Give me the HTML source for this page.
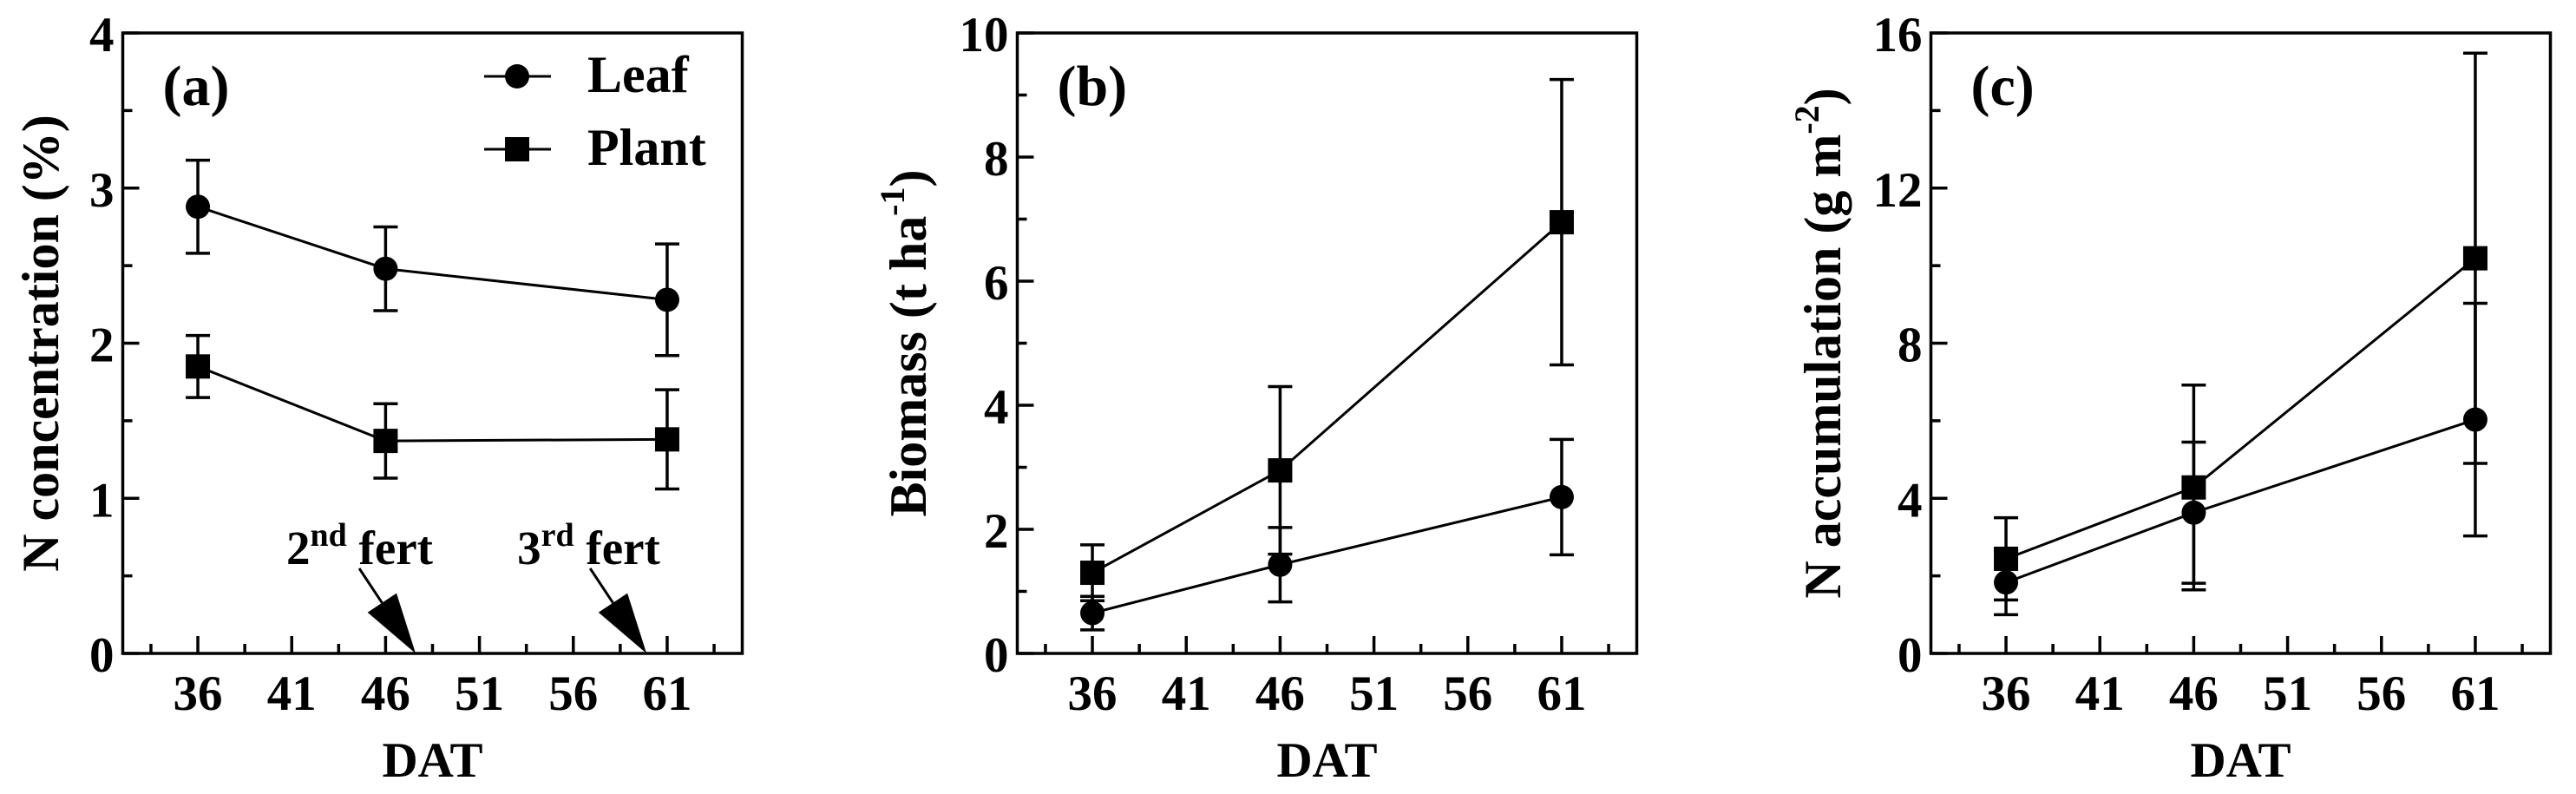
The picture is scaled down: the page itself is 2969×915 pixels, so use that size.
<!DOCTYPE html>
<html><head><meta charset="utf-8"><style>
html,body{margin:0;padding:0;background:#fff}
svg{display:block}
svg text, svg tspan{font-family:"Liberation Serif","Times New Roman",Times,serif !important;font-weight:bold;fill:#000}
</style></head><body>
<svg id="fig" width="2969" height="915" viewBox="0 0 2969 915" xmlns="http://www.w3.org/2000/svg" font-family="Liberation Serif, serif" font-weight="bold"></svg>
<script>
const days = [36, 46, 61];
const xTicks = [36, 41, 46, 51, 56, 61];
const aLeaf = [2.88, 2.48, 2.28];
const aLeafErr = [0.30, 0.27, 0.36];
const aPlant = [1.85, 1.37, 1.38];
const aPlantErr = [0.20, 0.24, 0.32];
const bLeaf = [0.65, 1.43, 2.52];
const bLeafErr = [0.27, 0.60, 0.93];
const bPlant = [1.30, 2.95, 6.95];
const bPlantErr = [0.45, 1.35, 2.30];
const cLeaf = [1.83, 3.63, 6.03];
const cLeafErr = [0.83, 1.82, 3.00];
const cPlant = [2.44, 4.28, 10.19];
const cPlantErr = [1.06, 2.64, 5.29];
const aTicks = [0, 1, 2, 3, 4];
const bTicks = [0, 2, 4, 6, 8, 10];
const cTicks = [0, 4, 8, 12, 16];
const fertDays = [47.6, 59.9];

const NS = "http://www.w3.org/2000/svg";
const svg = document.getElementById('fig');
const FONT = '"Liberation Serif", serif';
function mk(tag, attrs, parent) {
  const e = document.createElementNS(NS, tag);
  for (const k in attrs) e.setAttribute(k, attrs[k]);
  if (tag === 'text') { e.setAttribute('font-family', FONT); e.setAttribute('font-weight', 'bold'); }
  (parent || svg).appendChild(e);
  return e;
}
const TOP = 38, BOT = 753, W = 714;
const XMIN = 32, XMAX = 65;

function panel(left, ymax, ticks, leaf, leafErr, plant, plantErr, tag, titleParts, titleX, id) {
  const g = mk('g', {});
  
  
  const xs = v => left + (v - XMIN) / (XMAX - XMIN) * W;
  const ys = v => BOT - v / ymax * (BOT - TOP);
  for (let d = XMIN + 1.5; d < XMAX; d += 2.5) {
    const major = xTicks.indexOf(Math.round(d)) >= 0 && Math.abs(d - Math.round(d)) < 0.01;
    const t = mk('line', {x1: xs(d), x2: xs(d), y1: BOT, y2: BOT - (major ? 20 : 11), stroke: '#000', 'stroke-width': 3.5}, g);
    
    
  }
  xTicks.forEach(d => {
    const t = mk('text', {x: xs(d), y: 818, 'font-size': 57, 'text-anchor': 'middle'}, g);
    t.textContent = d;
    
    
  });
  const step = ticks[1] - ticks[0];
  for (let v = 0; v <= ymax + 1e-9; v += step / 2) {
    const major = Math.abs(v / step - Math.round(v / step)) < 1e-6;
    const t = mk('line', {x1: left, x2: left + (major ? 19 : 11), y1: ys(v), y2: ys(v), stroke: '#000', 'stroke-width': 3.5}, g);
    
    
  }
  ticks.forEach(v => {
    const t = mk('text', {x: left - 10, y: ys(v) + 21, 'font-size': 57, 'text-anchor': 'end'}, g);
    t.textContent = v;
    
    
  });
  const box = mk('rect', {x: left, y: TOP, width: W, height: BOT - TOP, fill: 'none', stroke: '#000', 'stroke-width': 3.5}, g);
  
  
  function series(vals, errs, kind) {
    const pts = vals.map((v, i) => xs(days[i]) + ',' + ys(v)).join(' ');
    const pl = mk('polyline', {points: pts, fill: 'none', stroke: '#000', 'stroke-width': 3}, g);
    
    
    vals.forEach((v, i) => {
      const x = xs(days[i]);
      const hi = ys(v + errs[i]), lo = ys(v - errs[i]);
      const eb = mk('path', {d: `M${x},${hi}V${lo}M${x-14},${hi}H${x+14}M${x-14},${lo}H${x+14}`, stroke: '#000', 'stroke-width': 3.5, fill: 'none'}, g);
      
      
      let m;
      if (kind === 'leaf') m = mk('circle', {cx: x, cy: ys(v), r: 14}, g);
      else m = mk('rect', {x: x - 14, y: ys(v) - 14, width: 28, height: 28}, g);
      
      
    });
  }
  series(leaf, leafErr, 'leaf');
  series(plant, plantErr, 'plant');
  const lab = mk('text', {x: left + 46, y: 121, 'font-size': 66}, g);
  lab.textContent = tag;
  
  
  const tt = mk('text', {transform: `translate(${titleX},${(TOP + BOT) / 2}) rotate(-90)`, 'font-size': 60, 'text-anchor': 'middle'}, g);
  
  
  titleParts.forEach(p => {
    const s = mk('tspan', p.sup ? {'font-size': 40, dy: -25} : (p.after ? {dy: 25} : {}), tt);
    s.textContent = p.t;
  });
  const dt = mk('text', {x: left + W / 2, y: 895, 'font-size': 57, 'text-anchor': 'middle'}, g);
  dt.textContent = 'DAT';
  
  
  return {xs, ys, g};
}

const pa = panel(141.5, 4, aTicks, aLeaf, aLeafErr, aPlant, aPlantErr, '(a)', [{t: 'N concentration (%)'}], 67, 'a');
panel(1172.5, 10, bTicks, bLeaf, bLeafErr, bPlant, bPlantErr, '(b)', [{t: 'Biomass (t ha'}, {t: '-1', sup: true}, {t: ')', after: true}], 1067, 'b');
panel(2225.5, 16, cTicks, cLeaf, cLeafErr, cPlant, cPlantErr, '(c)', [{t: 'N accumulation (g m'}, {t: '-2', sup: true}, {t: ')', after: true}], 2121, 'c');

const leg = mk('g', {});


[['Leaf', 88, 106], ['Plant', 172, 190]].forEach(([name, y, by], i) => {
  const l = mk('line', {x1: 558, x2: 635, y1: y, y2: y, stroke: '#000', 'stroke-width': 3}, leg);
  
  
  let m = i === 0 ? mk('circle', {cx: 596, cy: y, r: 14}, leg) : mk('rect', {x: 582, y: y - 14, width: 28, height: 28}, leg);
  
  
  const t = mk('text', {x: 677, y: by, 'font-size': 60}, leg);
  t.textContent = name;
  
  
});

const fertLabels = [['2', 'nd'], ['3', 'rd']];
fertDays.forEach((d, i) => {
  const tx = pa.xs(d), ty = BOT;
  const sx = tx - 65, sy = 655;
  const ang = Math.atan2(ty - sy, tx - sx);
  const hl = 70, hw = 20;
  const bx = tx - hl * Math.cos(ang), by = ty - hl * Math.sin(ang);
  const px = -Math.sin(ang) * hw, py = Math.cos(ang) * hw;
  const ln = mk('line', {x1: sx, y1: sy, x2: bx, y2: by, stroke: '#000', 'stroke-width': 3});
  
  
  const hd = mk('polygon', {points: `${tx},${ty} ${bx + px},${by + py} ${bx - px},${by - py}`});
  
  
  const t = mk('text', {x: sx - 84, y: 650, 'font-size': 55});
  
  
  const a = mk('tspan', {}, t); a.textContent = fertLabels[i][0];
  const b = mk('tspan', {'font-size': 38, dy: -21}, t); b.textContent = fertLabels[i][1];
  const c = mk('tspan', {dy: 21}, t); c.textContent = ' fert';
});
</script>
</body></html>
